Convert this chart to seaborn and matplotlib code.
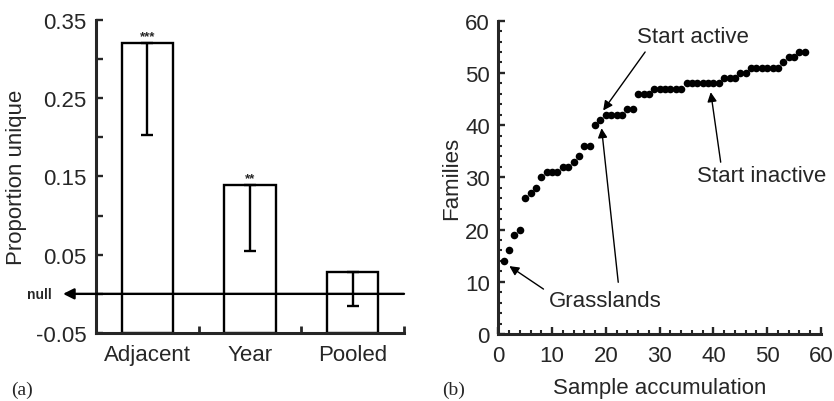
import numpy as np
import pandas as pd
import matplotlib
matplotlib.use("Agg")
import matplotlib.pyplot as plt
import seaborn as sns
from matplotlib.ticker import MultipleLocator, FixedLocator

# ---------------- data ----------------
categories = ["Adjacent", "Year", "Pooled"]
proportion_unique = [0.320, 0.139, 0.028]
lower_bound = [0.203, 0.055, -0.016]
significance = ["***", "**", ""]

sample_accumulation = [1, 2, 3, 4, 5, 6, 7, 8, 9, 10, 11, 12, 13, 14, 15, 16, 17, 18, 19,
                       20, 21, 22, 23, 24, 25, 26, 27, 28, 29, 30, 31, 32, 33, 34, 35, 36,
                       37, 38, 39, 40, 41, 42, 43, 44, 45, 46, 47, 48, 49, 50, 51, 52, 53,
                       54, 55, 56, 57]
families = [14, 16, 19, 20, 26, 27, 28, 30, 31, 31, 31, 32, 32, 33, 34, 36, 36, 40, 41,
            42, 42, 42, 42, 43, 43, 46, 46, 46, 47, 47, 47, 47, 47, 47, 48, 48, 48, 48,
            48, 48, 48, 49, 49, 49, 50, 50, 51, 51, 51, 51, 51, 51, 52, 53, 53, 54, 54]

left_yticks = [-0.05, 0.05, 0.15, 0.25, 0.35]
left_ytick_labels = ["-0.05", "0.05", "0.15", "0.25", "0.35"]

# ---------------- style ----------------
sns.set_style("ticks")
plt.rcParams["font.family"] = ["Liberation Sans", "DejaVu Sans"]
FS = 16
Y_FLOOR = -0.05

fig = plt.figure(figsize=(8.34, 4.02), dpi=100)
ax1 = fig.add_axes([0.1151, 0.1692, 0.3693, 0.7786])
ax2 = fig.add_axes([0.5975, 0.1667, 0.3869, 0.7794])

# ---------------- panel (a) ----------------
df_bars = pd.DataFrame({"category": categories,
                        "height": np.array(proportion_unique) - Y_FLOOR})
sns.barplot(data=df_bars, x="category", y="height", bottom=Y_FLOOR,
            color="white", saturation=1, edgecolor="black", linewidth=1.7,
            width=0.5, errorbar=None, ax=ax1, zorder=2)

vals = np.array(proportion_unique)
lows = np.array(lower_bound)
ax1.errorbar(x=np.arange(len(categories)), y=vals,
             yerr=[vals - lows, np.zeros_like(vals)], fmt="none",
             ecolor="black", elinewidth=1.7, capsize=4, capthick=1.7, zorder=3)

for i, (v, s) in enumerate(zip(proportion_unique, significance)):
    if s:
        ax1.annotate(s, xy=(i, v), xytext=(0, 1), textcoords="offset points",
                     ha="center", va="bottom", fontsize=9.5, fontweight="bold")

# null line with arrow crossing the axis
ytr = ax1.get_yaxis_transform()
ax1.annotate("", xy=(-0.107, 0.0), xycoords=ytr, xytext=(1.0, 0.0), textcoords=ytr,
             arrowprops=dict(arrowstyle="-|>", lw=1.7, color="black",
                             mutation_scale=16, shrinkA=0, shrinkB=0),
             annotation_clip=False, zorder=4)
ax1.text(-0.183, 0.0, "null", transform=ytr, ha="center", va="center",
         fontsize=10, fontweight="bold")

ax1.set_xlim(-0.5, 2.5)
ax1.set_ylim(-0.05, 0.35)
ax1.set_yticks(left_yticks)
ax1.set_yticklabels(left_ytick_labels)
ax1.yaxis.set_minor_locator(FixedLocator([0.0, 0.1, 0.2, 0.3]))
ax1.xaxis.set_minor_locator(FixedLocator([0.5, 1.5, 2.5]))
ax1.tick_params(axis="y", which="both", direction="in", length=5, width=1.7,
                labelsize=FS, pad=7)
ax1.tick_params(axis="x", which="major", length=0, labelsize=FS, pad=8)
ax1.tick_params(axis="x", which="minor", direction="in", length=5, width=2)
ax1.set_xlabel("")
ax1.set_ylabel("Proportion unique", fontsize=FS, labelpad=6)
for side in ("top", "right"):
    ax1.spines[side].set_visible(False)
for side in ("left", "bottom"):
    ax1.spines[side].set_linewidth(2.2)

# ---------------- panel (b) ----------------
sns.scatterplot(x=sample_accumulation, y=families, color="black", s=30,
                linewidth=0, ax=ax2, zorder=3)
ax2.set_xlim(0, 60)
ax2.set_ylim(0, 60)
ax2.xaxis.set_major_locator(MultipleLocator(10))
ax2.yaxis.set_major_locator(MultipleLocator(10))
ax2.xaxis.set_minor_locator(MultipleLocator(2))
ax2.yaxis.set_minor_locator(MultipleLocator(2))
ax2.tick_params(axis="both", which="major", direction="in", length=5, width=1.7,
                labelsize=FS)
ax2.tick_params(axis="both", which="minor", direction="in", length=3, width=1.5)
ax2.tick_params(axis="y", which="major", pad=6)
ax2.tick_params(axis="x", which="major", pad=8)
ax2.set_xlabel("Sample accumulation", fontsize=FS, labelpad=8)
ax2.set_ylabel("Families", fontsize=FS, labelpad=2)
for side in ("top", "right"):
    ax2.spines[side].set_visible(False)
for side in ("left", "bottom"):
    ax2.spines[side].set_linewidth(2.2)

arrow_kw = dict(arrowstyle="-|>", lw=1.0, color="black", mutation_scale=14,
                shrinkA=0, shrinkB=0)
ax2.text(36.2, 56.9, "Start active", ha="center", va="center", fontsize=FS)
ax2.annotate("", xy=(19.5, 42.8), xytext=(27.3, 54.0), arrowprops=arrow_kw)
ax2.text(49.0, 30.3, "Start inactive", ha="center", va="center", fontsize=FS)
ax2.annotate("", xy=(39.5, 46.3), xytext=(41.35, 32.9), arrowprops=arrow_kw)
ax2.text(19.9, 6.5, "Grasslands", ha="center", va="center", fontsize=FS)
ax2.annotate("", xy=(2.05, 13.0), xytext=(8.4, 8.6), arrowprops=arrow_kw)
ax2.annotate("", xy=(19.2, 39.4), xytext=(22.3, 9.9), arrowprops=arrow_kw)

# panel letters
fig.text(0.026, 0.030, "(a)", ha="center", va="center", fontsize=14,
         family=["Liberation Serif", "DejaVu Serif"])
fig.text(0.544, 0.030, "(b)", ha="center", va="center", fontsize=14,
         family=["Liberation Serif", "DejaVu Serif"])

fig.savefig("out.png", dpi=100)
